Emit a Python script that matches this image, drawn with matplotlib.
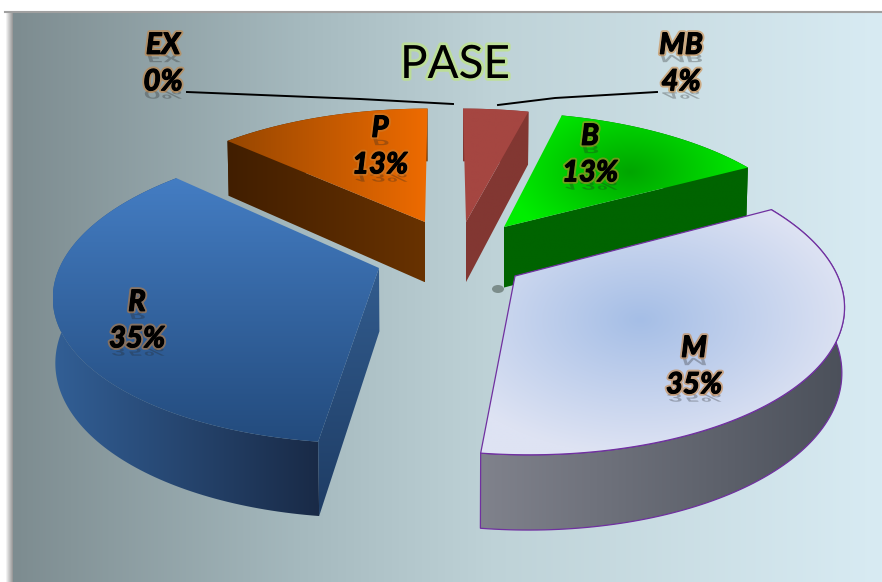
import numpy as np
import matplotlib
matplotlib.use("Agg")
import matplotlib.pyplot as plt
import matplotlib.patheffects as pe
from matplotlib.patches import Polygon, Ellipse
from matplotlib.transforms import Affine2D

# --- data ---
names = ["MB", "B", "M", "R", "P", "EX"]
values = [4, 13, 35, 35, 13, 0]
title = "PASE"

# --- pie layout (pixels), one apex per slice because each is pulled out differently ---
apex_px = {"MB": (466, 222), "B": (504, 227), "M": (515, 276), "R": (379, 268), "P": (425, 222)}
draw_order = ["MB", "P", "B", "R", "M"]
label_pos = {"EX": (163, 64), "MB": (681, 64), "P": (380, 147), "B": (590, 155),
             "M": (694, 367), "R": (137, 321)}
leaders = [([187, 360, 453], [92, 99, 104]), ([498, 555, 657], [105, 98, 92])]
# which cut edge of a slice faces the viewer: 0 first edge, -1 last edge
visible_cut = {"MB": -1, "B": -1, "P": 0, "R": 0}

# camera
CX, CY = 444.0, 235.0
A, B, C = 0.00325, 0.00052, 0.00002
Q, H = 0.44, 0.20

fig = plt.figure(figsize=(8.82, 5.82), dpi=100, facecolor="white")
ax = fig.add_axes([0, 0, 1, 1])
ax.axis("off")
zc = [1]


def project(X, Y, low=False):
    w = A + B * Y + (C if low else 0)
    return CX + X / w, CY - (Q * Y - (H if low else 0)) / w


def unproject(px, py):
    d = CY - py
    Y = d * A / (Q - d * B)
    return (px - CX) * (A + B * Y), Y


def grad(pts, c0, c1, mode="x", center=None, radius=1, edge=None):
    pts = np.asarray(pts)
    x0, y0 = pts.min(axis=0)
    x1, y1 = pts.max(axis=0)
    nx, ny = max(int(x1 - x0) + 2, 2), max(int(y1 - y0) + 2, 2)
    gx, gy = np.meshgrid(np.linspace(x0, x1, nx), np.linspace(y0, y1, ny))
    if mode == "x":
        t = (gx - x0) / max(x1 - x0, 1)
    elif mode == "y":
        t = (gy - y0) / max(y1 - y0, 1)
    else:
        t = np.clip(np.hypot(gx - center[0], (gy - center[1]) * 1.6) / radius, 0, 1)
    c0, c1 = np.array(c0) / 255, np.array(c1) / 255
    img = c0 + (c1 - c0) * t[..., None]
    im = ax.imshow(img, extent=(x0, x1, y1, y0), aspect="auto", zorder=zc[0], interpolation="bilinear")
    poly = Polygon(pts, closed=True, transform=ax.transData, fc="none", ec=edge or "none",
                   lw=0.9, zorder=zc[0] + 0.5)
    im.set_clip_path(poly)
    if edge:
        ax.add_patch(poly)
    zc[0] += 1


# background and window edge
bg_stops = np.array([[125, 140, 144], [165, 185, 190], [190, 210, 215], [216, 235, 243]]) / 255
bg_x = np.linspace(0, 1, 300)
bg_img = np.stack([np.interp(bg_x, [0, 0.33, 0.55, 1], bg_stops[:, i]) for i in range(3)], axis=-1)[None, :, :]
ax.imshow(bg_img, extent=(13, 882, 582, 12), aspect="auto", zorder=0)
ax.imshow(np.linspace(1, 0.6, 8)[None, :], extent=(5, 13, 582, 12), aspect="auto", cmap="gray",
          vmin=0, vmax=1, zorder=0)
ax.plot([5, 882], [11.5, 11.5], color="#a0a0a0", lw=1.5, zorder=0.5)

# small shadow under the green slice
ax.add_patch(Ellipse((498, 289), 12, 8, fc=(0.1, 0.15, 0.1), ec="none", alpha=0.4, zorder=0.8))

# slice styles: top, cut faces, outer side
styles = {
    "MB": dict(top=((165, 70, 65), (165, 70, 65), "x"), cut=((130, 55, 50), (130, 55, 50), "x"),
               side=((130, 55, 50), (130, 55, 50))),
    "P": dict(top=((150, 70, 0), (238, 107, 0), "x"), cut=((65, 30, 0), (104, 50, 0), "x"),
              side=((65, 30, 0), (104, 50, 0))),
    "B": dict(top=((0, 165, 0), (0, 238, 0), "r", (630, 172), 125), cut=((0, 100, 0), (0, 100, 0), "x"),
              side=((0, 100, 0), (0, 100, 0))),
    "R": dict(top=((68, 125, 195), (35, 75, 125), "y"), cut=((50, 92, 142), (30, 60, 100), "y"),
              side=((50, 95, 150), (25, 42, 70))),
    "M": dict(top=((165, 190, 230), (222, 227, 243), "r", (640, 320), 215),
              side=((128, 130, 140), (75, 80, 90)), edge="#7030a0"),
}

# --- slices ---
total = sum(values)
starts = {}
acc = 0
for n, v in zip(names, values):
    starts[n] = (acc / total * 360, (acc + v) / total * 360)
    acc += v

for n in draw_order:
    a0, a1 = starts[n]
    ox, oy = unproject(*apex_px[n])
    th = np.radians(np.linspace(a0, a1, 120))
    X, Y = ox + np.sin(th), oy + np.cos(th)
    st = styles[n]
    edge = st.get("edge")
    top_rim = np.column_stack(project(X, Y))
    low_rim = np.column_stack(project(X, Y, True))
    top_ap = np.array(project(ox, oy))
    low_ap = np.array(project(ox, oy, True))

    grad(np.vstack([top_rim, low_rim[::-1]]), st["side"][0], st["side"][1], "x", edge=edge)
    if n in visible_cut:
        i = visible_cut[n]
        c = st["cut"]
        grad([top_ap, top_rim[i], low_rim[i], low_ap], c[0], c[1], c[2])
    t = st["top"]
    top_poly = np.vstack([top_ap, top_rim])
    if t[2] == "r":
        grad(top_poly, t[0], t[1], "r", t[3], t[4], edge=edge)
    else:
        grad(top_poly, t[0], t[1], t[2])

# leader lines
for lx, ly in leaders:
    ax.plot(lx, ly, color="black", lw=1.4, zorder=50)


class Reflect(pe.AbstractPathEffect):
    def __init__(self, factor=0.4, alpha=0.3):
        super().__init__()
        self.factor, self.alpha = factor, alpha

    def draw_path(self, renderer, gc, tpath, affine, rgbFace=None):
        gc0 = renderer.new_gc()
        gc0.copy_properties(gc)
        gc0.set_alpha(self.alpha)
        gc0.set_linewidth(0)
        renderer.draw_path(gc0, tpath, Affine2D().scale(1, -self.factor) + affine, (0.15, 0.15, 0.15, self.alpha))
        gc0.restore()


glow = [Reflect(),
        pe.withStroke(linewidth=3.6, foreground=(0.8, 0.5, 0.2), alpha=0.55),
        pe.withStroke(linewidth=0.9, foreground="black")]

for n, v in zip(names, values):
    px, py = label_pos[n]
    ax.text(px, py, f"{n}\n{v}%", ha="center", va="center", family="Lato", fontsize=21,
            fontweight="bold", style="italic", color="black", linespacing=1.5,
            path_effects=glow, zorder=60)

ax.text(455, 65, title, ha="center", va="center", family="Lato", fontsize=33, color="black",
        path_effects=[pe.withStroke(linewidth=4, foreground=(0.75, 0.9, 0.5), alpha=0.7)], zorder=60)

ax.set_xlim(0, 882)
ax.set_ylim(582, 0)
fig.savefig("out.png", dpi=100, facecolor="white")
